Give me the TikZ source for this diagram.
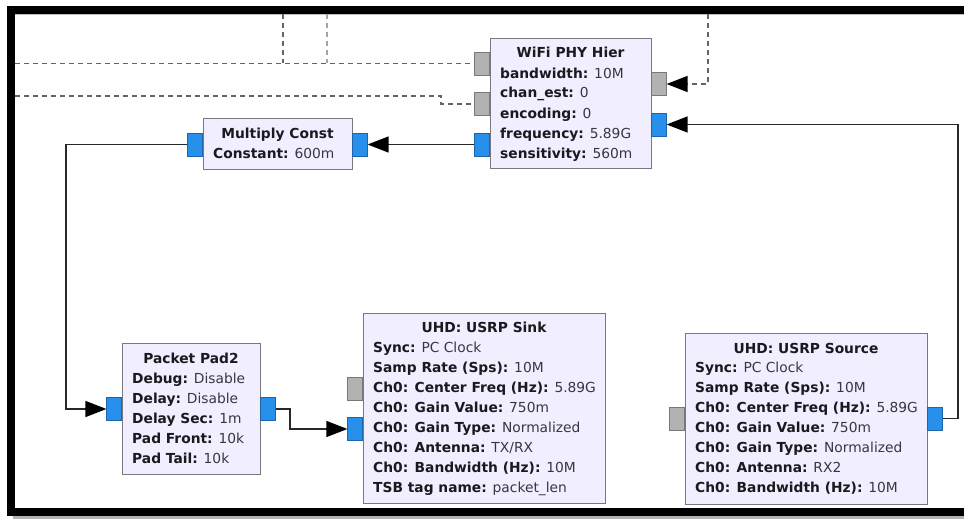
\documentclass[tikz,border=0pt]{standalone}
\usepackage{fontspec}
\setmainfont{DejaVu Sans}
\usetikzlibrary{arrows.meta}
\definecolor{blockfill}{RGB}{241,238,255}
\definecolor{blockedge}{RGB}{120,120,130}
\definecolor{portblue}{RGB}{38,144,235}
\definecolor{portblueedge}{RGB}{30,100,170}
\definecolor{portgray}{RGB}{178,178,178}
\definecolor{portgrayedge}{RGB}{120,120,120}
\definecolor{labelc}{RGB}{25,25,30}
\definecolor{valuec}{RGB}{55,55,65}
\definecolor{conncol}{RGB}{40,40,40}
\definecolor{dashcol}{RGB}{100,100,100}
\definecolor{dashlight}{RGB}{165,165,165}
\newcommand{\kv}[2]{{\bfseries\color{labelc}#1:} {\color{valuec}#2}}
\newcommand{\blockfields}[4]{%
  \foreach \ftxt [count=\i] in {#4} {\node[fieldtxt] (#1-\i) at (#2, {#3+20*(\i-1)}) {\ftxt};}}
\begin{document}
\begin{tikzpicture}[x=1pt,y=-1pt,
  blockbox/.style n args={2}{draw=blockedge, fill=blockfill, line width=1.2pt,
    anchor=north west, inner sep=0pt, minimum width=#1pt, minimum height=#2pt},
  portb/.style={draw=portblueedge, fill=portblue, line width=0.6pt, minimum width=15pt,
    minimum height=23pt, inner sep=0pt},
  portg/.style={draw=portgrayedge, fill=portgray, line width=0.6pt, minimum width=15pt,
    minimum height=23pt, inner sep=0pt},
  titletxt/.style={font=\fontsize{13.8}{16}\selectfont\bfseries, text=labelc, anchor=base, inner sep=0pt},
  fieldtxt/.style={font=\fontsize{13.8}{16}\selectfont, anchor=base west, inner sep=0pt},
  conn/.style={draw=conncol, line width=1.3pt},
  arr/.style={-{Triangle[length=21pt,width=16pt,color=black]}},
  dashline/.style={draw=dashcol, line width=1.3pt, dash pattern=on 5pt off 4pt},
  dashlite/.style={draw=dashlight, line width=1.1pt, dash pattern=on 5pt off 4pt}]
\useasboundingbox (0,0) rectangle (964,519);
\fill[white] (0,0) rectangle (964,519);
% frame
\fill[black] (7,6) rectangle (15,516);
\fill[black] (7,6) rectangle (964,14);
\fill[black] (7,508) rectangle (964,516);
\fill[black!30] (13,516) rectangle (964,519);
\fill[black!25] (15,14) rectangle (964,15.2);

% blocks
\node[blockbox={161}{130}] (wifi) at (490,38) {};
\node[blockbox={149}{51}] (mc) at (203,118) {};
\node[blockbox={138}{131}] (pp) at (122,343) {};
\node[blockbox={242}{190}] (sink) at (363,313) {};
\node[blockbox={242}{171}] (src) at (685,333) {};

% ports
\node[portg, anchor=east] (wIn1) at (490,63.5) {};
\node[portg, anchor=east] (wIn2) at (490,104) {};
\node[portb, anchor=east] (wIn3) at (490,144.5) {};
\node[portg, anchor=west] (wOut1) at (651,84) {};
\node[portb, anchor=west] (wOut2) at (651,124.5) {};
\node[portb, anchor=east] (mcIn) at (203,144.5) {};
\node[portb, anchor=west] (mcOut) at (352,144.5) {};
\node[portb, anchor=east] (ppIn) at (122,409) {};
\node[portb, anchor=west] (ppOut) at (260,409) {};
\node[portg, anchor=east] (sinkIn1) at (363,388.5) {};
\node[portb, anchor=east] (sinkIn2) at (363,429) {};
\node[portg, anchor=east] (srcIn) at (685,418.5) {};
\node[portb, anchor=west] (srcOut) at (927,418.5) {};

% titles
\node[titletxt] (wifiT) at (570.5,58) {WiFi PHY Hier};
\node[titletxt] (mcT) at (277.5,138) {Multiply Const};
\node[titletxt] (ppT) at (191,363) {Packet Pad2};
\node[titletxt] (sinkT) at (484,332) {UHD: USRP Sink};
\node[titletxt] (srcT) at (806,353) {UHD: USRP Source};

% fields
\blockfields{wf}{500}{78}{{\kv{bandwidth}{10M}},{\kv{chan\_est}{0}},{\kv{encoding}{0}},{\kv{frequency}{5.89G}},{\kv{sensitivity}{560m}}}
\blockfields{mf}{213}{158}{{\kv{Constant}{600m}}}
\blockfields{pf}{132}{383}{{\kv{Debug}{Disable}},{\kv{Delay}{Disable}},{\kv{Delay Sec}{1m}},{\kv{Pad Front}{10k}},{\kv{Pad Tail}{10k}}}
\blockfields{sf}{373}{352}{{\kv{Sync}{PC Clock}},{\kv{Samp Rate (Sps)}{10M}},{\kv{Ch0: Center Freq (Hz)}{5.89G}},{\kv{Ch0: Gain Value}{750m}},{\kv{Ch0: Gain Type}{Normalized}},{\kv{Ch0: Antenna}{TX/RX}},{\kv{Ch0: Bandwidth (Hz)}{10M}},{\kv{TSB tag name}{packet\_len}}}
\blockfields{rf}{695}{372}{{\kv{Sync}{PC Clock}},{\kv{Samp Rate (Sps)}{10M}},{\kv{Ch0: Center Freq (Hz)}{5.89G}},{\kv{Ch0: Gain Value}{750m}},{\kv{Ch0: Gain Type}{Normalized}},{\kv{Ch0: Antenna}{RX2}},{\kv{Ch0: Bandwidth (Hz)}{10M}}}

% connector helper coordinates
\coordinate (c1) at (66,0);
\coordinate (c2) at (290,0);
\coordinate (c3) at (958,0);
\coordinate (d1) at (15,63.5);
\coordinate (d2) at (15,96);
\coordinate (d3) at (441,96);
\coordinate (d4) at (708,14);
\coordinate (v1t) at (283,14);
\coordinate (v1b) at (283,63.5);
\coordinate (v2t) at (327,14);
\coordinate (v2b) at (327,63.5);

% solid connectors
\draw[conn, arr] (wIn3.west) -- (mcOut.east);
\draw[conn, arr] (mcIn.west) -- (mcIn.west -| c1) -- (c1 |- ppIn.west) -- (ppIn.west);
\draw[conn, arr] (ppOut.east) -- (ppOut.east -| c2) -- (c2 |- sinkIn2.west) -- (sinkIn2.west);
\draw[conn, arr] (srcOut.east) -- (srcOut.east -| c3) -- (c3 |- wOut2.east) -- (wOut2.east);

% dashed connectors
\draw[dashline] (d1) -- (wIn1.west);
\draw[dashline] (v1t) -- (v1b);
\draw[dashlite] (v2t) -- (v2b);
\draw[dashline] (d2) -- (d3) -- (d3 |- wIn2.west) -- (wIn2.west);
\draw[dashline, arr] (d4) -- (d4 |- wOut1.east) -- (wOut1.east);
\end{tikzpicture}
\end{document}
